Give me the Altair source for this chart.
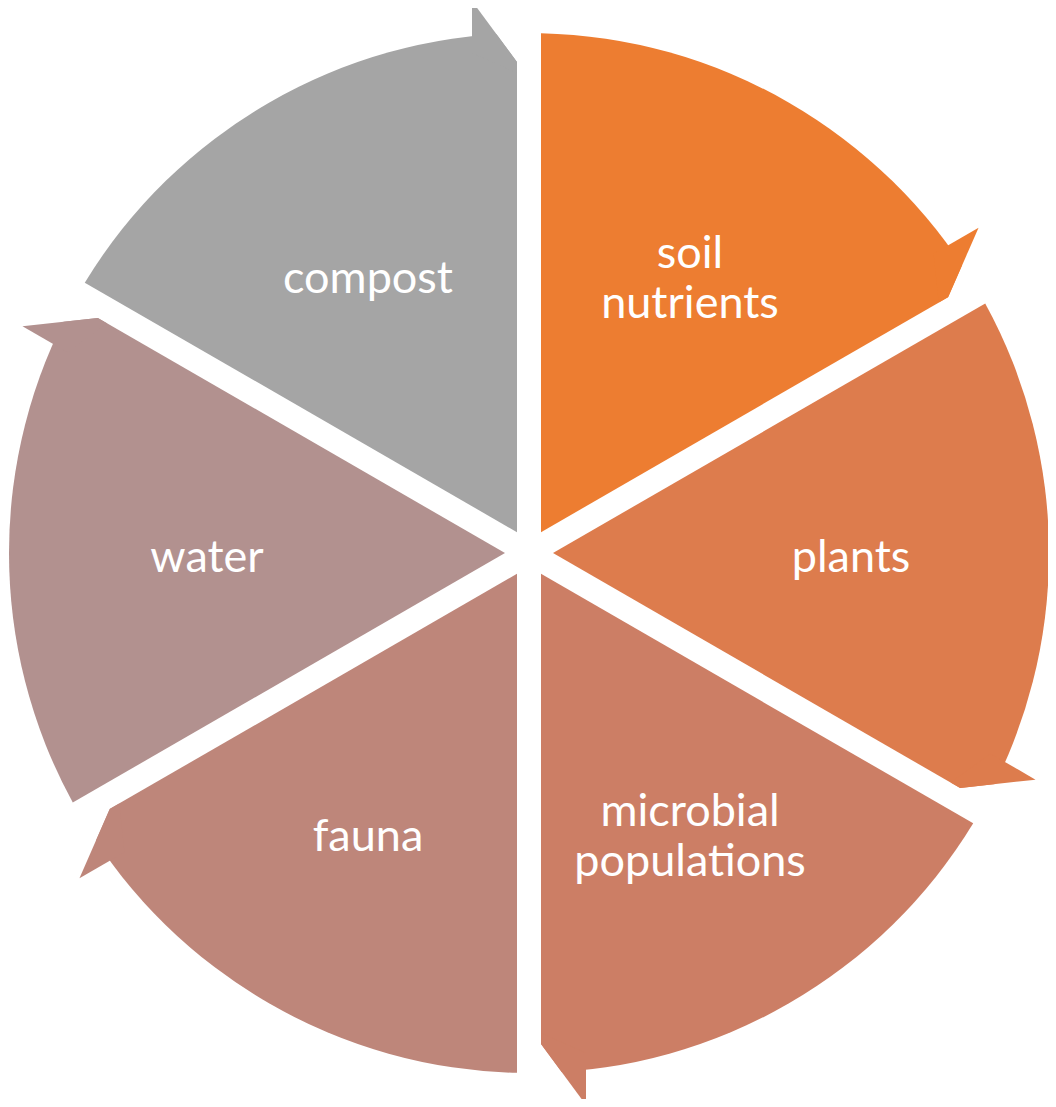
import math
import altair as alt
import pandas as pd

# ---- data ----
categories = ["soil nutrients", "plants", "microbial populations", "fauna", "water", "compost"]
labels = ["soil\nnutrients", "plants", "microbial\npopulations", "fauna", "water", "compost"]
values = [1, 1, 1, 1, 1, 1]
colors = ["#ED7D31", "#DD7C4D", "#CC7E65", "#BE867A", "#B2918F", "#A5A5A5"]

# ---- layout ----
W, H = 1040, 1091
CX, CY = 521, 545
R = 520          # outer radius
R0 = 24          # inner radius (where padded edges meet)
PAD = 12         # half gap between segments
pad_angle = 2 * math.asin(PAD / math.sqrt(R0 ** 2 + R ** 2))

df = pd.DataFrame({
    "category": categories,
    "value": values,
    "idx": list(range(len(values))),
    "one_line": [l if "\n" not in l else "" for l in labels],
    "two_line": [l if "\n" in l else "" for l in labels],
})

base = alt.Chart(df).encode(
    theta=alt.Theta("value:Q", stack=True),
    order=alt.Order("idx:Q"),
    x=alt.value(CX),
    y=alt.value(CY),
)

arcs = base.mark_arc(outerRadius=R, innerRadius=R0, padAngle=pad_angle).encode(
    color=alt.Color("category:N", scale=alt.Scale(domain=categories, range=colors), legend=None)
)

text_style = dict(radius=322, font="Lato", fontSize=45, color="white",
                  lineBreak="\n", lineHeight=50, align="center", baseline="middle")
text1 = base.mark_text(dy=5, **text_style).encode(text="one_line:N")
text2 = base.mark_text(dy=-20, **text_style).encode(text="two_line:N")

# ---- arrowhead caps at the clockwise end of every segment ----
total = float(sum(values))


def pt(a, along, perp):
    ux, uy = math.sin(a), -math.cos(a)
    nx, ny = -math.cos(a), -math.sin(a)
    return [CX + along * ux + perp * nx, CY + along * uy + perp * ny]


white_feats, color_feats = [], []
cum = 0.0
for v, c in zip(values, colors):
    cum += v
    a_end = cum / total * 2 * math.pi
    tip = pt(a_end, 491, PAD)
    barb = pt(a_end, 552, 57)
    wpoly = [tip, barb, pt(a_end, 620, 57), pt(a_end, 620, 4), pt(a_end, 491, 4), tip]
    cpoly = [pt(a_end, 480, PAD), tip, barb, pt(a_end, 500, 57), pt(a_end, 480, PAD)]
    white_feats.append({"type": "Feature", "properties": {"color": "#FFFFFF"},
                        "geometry": {"type": "Polygon", "coordinates": [wpoly]}})
    color_feats.append({"type": "Feature", "properties": {"color": c},
                        "geometry": {"type": "Polygon", "coordinates": [cpoly]}})

proj = alt.Projection(type="identity", scale=1, translate=[0, 0])

white_caps = alt.Chart(alt.Data(values=white_feats)).mark_geoshape(
    fill="#FFFFFF", strokeWidth=0, stroke="#FFFFFF", strokeOpacity=0
).project(**proj.to_dict())

color_caps = alt.Chart(alt.Data(values=color_feats)).mark_geoshape(
    strokeWidth=0, strokeOpacity=0, stroke="#FFFFFF"
).encode(
    fill=alt.Fill("properties.color:N", scale=None)
).project(**proj.to_dict())

chart = alt.layer(arcs, white_caps, color_caps, text1, text2).properties(
    width=W, height=H, padding=0,
    autosize=alt.AutoSizeParams(type="none"),
    background="white",
).configure_view(stroke=None)

chart.save("out.html", embed_options={"renderer": "svg", "actions": False})
